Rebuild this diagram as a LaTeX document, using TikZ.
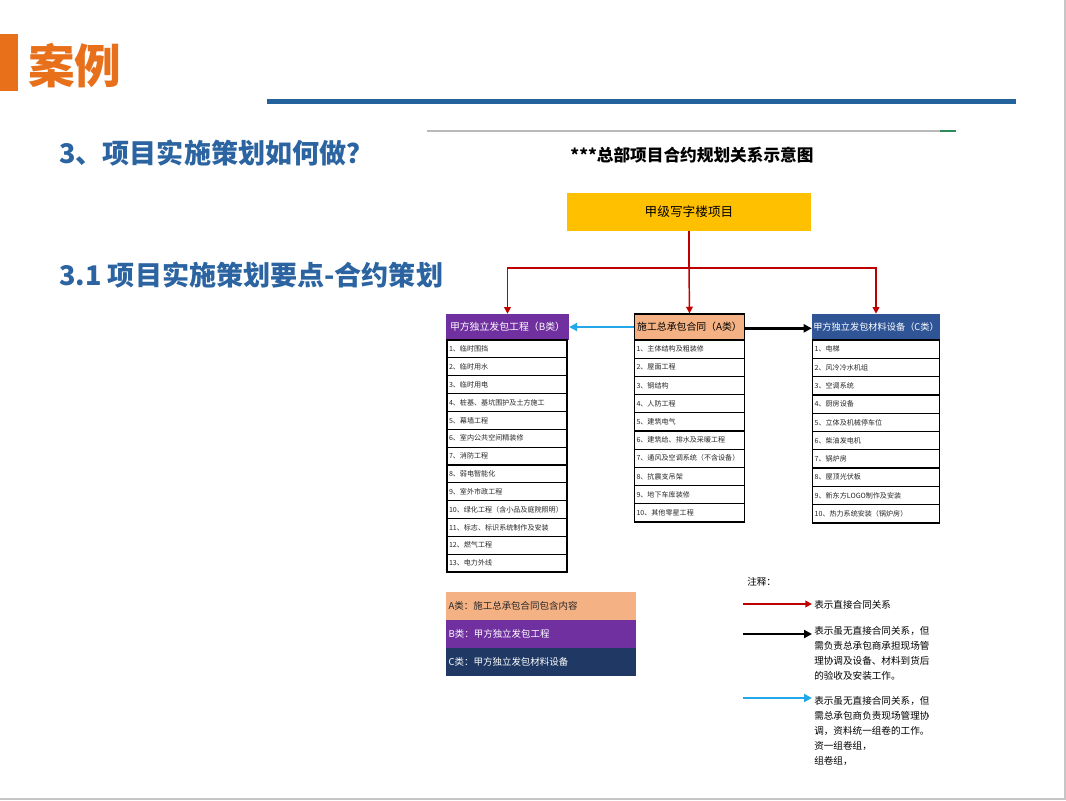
\documentclass[tikz,border=0pt]{standalone}
\usepackage{fontspec}
\setmainfont{Noto Sans CJK SC}
\usetikzlibrary{arrows.meta}
\definecolor{orng}{HTML}{E8701A}
\definecolor{ttlblue}{HTML}{2B64A0}
\definecolor{lineblue}{HTML}{23629A}
\definecolor{yel}{HTML}{FFC000}
\definecolor{purp}{HTML}{7030A0}
\definecolor{salm}{HTML}{F4B183}
\definecolor{cblue}{HTML}{2F5597}
\definecolor{navy}{HTML}{1F3864}
\definecolor{dred}{HTML}{C00000}
\definecolor{lblue}{HTML}{22A8E8}
\definecolor{grn}{HTML}{2E8B57}
\tikzset{
  hdr/.style={minimum height=19.5pt, inner sep=0pt, font=\fontsize{7.4}{8}\selectfont},
  rowitem/.style={draw=black, line width=0.9pt, minimum height=#1, inner xsep=1.5pt, inner ysep=0pt, align=left, font=\fontsize{5.3}{6}\selectfont, text=black!85},
  legband/.style={minimum width=142.5pt, minimum height=21pt, inner xsep=2pt, inner ysep=0pt, text width=138.5pt, align=left, font=\fontsize{7.1}{8}\selectfont},
  redarr/.style={draw=dred, line width=1.1pt, -{Triangle[length=5pt,width=5pt]}},
  redline/.style={draw=dred, line width=1.1pt},
  bluearr/.style={draw=lblue, line width=1.6pt, -{Triangle[length=6pt,width=6pt]}},
  blackarr/.style={draw=black, line width=1.8pt, -{Triangle[length=6pt,width=6pt]}},
  note/.style={inner sep=0pt, align=left, font=\fontsize{7.2}{11.2}\selectfont},
}
\begin{document}
\begin{tikzpicture}[x=0.75pt,y=-0.75pt]
\useasboundingbox (0,0) rectangle (1066,800);
% slide frame
\draw[gray!45, line width=1.5pt] (1064.5,0) -- (1064.5,800);
\draw[gray!45, line width=1.5pt] (0,798.5) -- (1066,798.5);
% header
\fill[orng] (0,34) rectangle (18,91);
\node[anchor=west, inner sep=0pt, text=orng, font=\fontsize{35}{38}\selectfont\bfseries] (case) at (28,66) {案例};
\fill[lineblue] (267,98.5) rectangle (1016,104);
\draw[gray!55, line width=1.5pt] (427,130.5) -- (940,130.5);
\draw[grn, line width=1.5pt] (940,130.5) -- (956,130.5);
\node[anchor=west, inner sep=0pt, text=ttlblue, font=\fontsize{20.3}{22}\selectfont\bfseries] (t1) at (59,153) {3、项目实施策划如何做？};
\node[anchor=west, inner sep=0pt, text=ttlblue, font=\fontsize{20.3}{22}\selectfont\bfseries] (t2) at (59,275) {3.1 项目实施策划要点-合约策划};
% chart title
\node[inner sep=0pt, font=\fontsize{12.5}{14}\selectfont\bfseries] (ctitle) at (692,155) {***总部项目合约规划关系示意图};
% project box
\node[fill=yel, minimum width=183pt, minimum height=28.5pt, inner sep=0pt, font=\fontsize{9.5}{11}\selectfont] (proj) at (689,212) {甲级写字楼项目};
% headers
\node[hdr, fill=purp, text=white, minimum width=92pt] (hB) at (507.5,327) {甲方独立发包工程（B类）};
\node[hdr, fill=salm, draw=black, line width=0.9pt, text=black, minimum width=82.5pt] (hA) at (689.5,327) {施工总承包合同（A类）};
\node[hdr, fill=cblue, text=white, minimum width=96pt, font=\fontsize{6.9}{8}\selectfont] (hC) at (876,327) {甲方独立发包材料设备（C类）};
% red connectors
\coordinate (split) at (689,268);
\draw[redline] (proj.south) -- (split);
\draw[redarr] (split) -| (hB.north);
\draw[redarr] (split) -- (hA.north);
\draw[redarr] (split) -| (hC.north);
% side arrows
\draw[bluearr] (hA.west) -- (hB.east);
\draw[blackarr] ([yshift=-1pt]hA.east) -- ([yshift=-1pt]hC.west);
% B list
\foreach \t [count=\i] in {临时围挡,临时用水,临时用电,桩基、基坑围护及土方施工,幕墙工程,室内公共空间精装修,消防工程,弱电智能化,室外市政工程,绿化工程（含小品及庭院照明）,标志、标识系统制作及安装,燃气工程,电力外线}
  \node[rowitem=13.39pt, text width=87pt] (b\i) at (507, {340+17.85*(\i-0.5)}) {\i、\t};
% A list
\foreach \t [count=\i] in {主体结构及粗装修,屋面工程,钢结构,人防工程,建筑电气,建筑给、排水及采暖工程,通风及空调系统（不含设备）,抗震支吊架,地下车库装修,其他零星工程}
  \node[rowitem=13.65pt, text width=79.5pt] (a\i) at (689.5, {340+18.2*(\i-0.5)}) {\i、\t};
% C list
\foreach \t [count=\i] in {电梯,风冷冷水机组,空调系统,厨房设备,立体及机械停车位,柴油发电机,锅炉房,屋顶光伏板,新东方LOGO制作及安装,热力系统安装（锅炉房）}
  \node[rowitem=13.7pt, text width=92pt] (c\i) at (876, {340+18.3*(\i-0.5)}) {\i、\t};
% legend
\node[legband, fill=salm, text=black!85] (la) at (541,605.5) {A类：施工总承包合同包含内容};
\node[legband, fill=purp, text=white] (lb) at (541,633.5) {B类：甲方独立发包工程};
\node[legband, fill=navy, text=white] (lc) at (541,661.5) {C类：甲方独立发包材料设备};
% notes
\node[note, anchor=west] (nh) at (747,582) {注释：};
\coordinate (r1) at (743,604); \coordinate (r2) at (812,604);
\draw[redarr, line width=1.5pt] (r1) -- (r2);
\node[note, anchor=west] (n1) at (814,605) {表示直接合同关系};
\coordinate (k1) at (743,634); \coordinate (k2) at (812,634);
\draw[blackarr, line width=1.5pt] (k1) -- (k2);
\node[note, anchor=north west] (n2) at (814,626) {表示虽无直接合同关系，但\\需负责总承包商承担现场管\\理协调及设备、材料到货后\\的验收及安装工作。};
\coordinate (q1) at (743,698); \coordinate (q2) at (812,698);
\draw[bluearr, line width=1.5pt] (q1) -- (q2);
\node[note, anchor=north west] (n3) at (814,696) {表示虽无直接合同关系，但\\需总承包商负责现场管理协\\调，资料统一组卷的工作。\\资一组卷组，\\组卷组，};
\end{tikzpicture}
\end{document}
